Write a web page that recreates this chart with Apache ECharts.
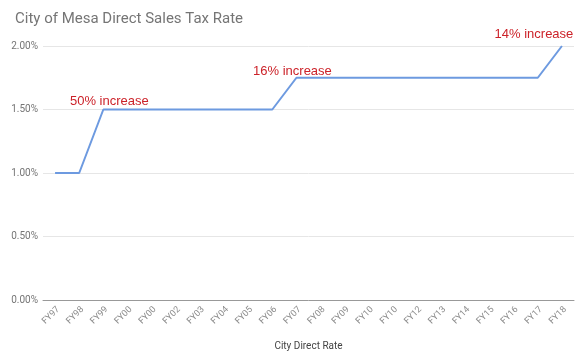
<!DOCTYPE html>
<html>
<head>
<meta charset="utf-8">
<script src="https://cdn.jsdelivr.net/npm/echarts@6/dist/echarts.min.js"></script>
<style>html,body{margin:0;padding:0;background:#fff}#c{width:582px;height:356px}</style>
</head>
<body>
<div id="c"></div>
<script>
var categories = ['FY97','FY98','FY99','FY00','FY00','FY02','FY03','FY04','FY05','FY06','FY07','FY08','FY09','FY10','FY10','FY12','FY13','FY14','FY15','FY16','FY17','FY18'];
var rates = [1.00,1.00,1.50,1.50,1.50,1.50,1.50,1.50,1.50,1.50,1.75,1.75,1.75,1.75,1.75,1.75,1.75,1.75,1.75,1.75,1.75,2.00];
var yTicks = [0, 0.5, 1.0, 1.5, 2.0];
var annotations = [
  {text: '50% increase', index: 2, value: 1.50, dx: 6, dy: -9},
  {text: '16% increase', index: 10, value: 1.75, dx: -4, dy: -7},
  {text: '14% increase', index: 21, value: 2.00, dx: -28, dy: -12}
];

var chart = echarts.init(document.getElementById('c'), null, {renderer: 'canvas'});
chart.setOption({
  animation: false,
  backgroundColor: '#fff',
  title: {
    text: 'City of Mesa Direct Sales Tax Rate',
    left: 10, top: 7,
    textStyle: {fontFamily: 'Roboto', fontSize: 15, fontWeight: 'normal', color: '#757575'}
  },
  grid: {left: 43, right: 8, top: 46, bottom: 55, containLabel: false},
  xAxis: {
    type: 'category',
    data: categories,
    boundaryGap: true,
    name: 'City Direct Rate',
    nameLocation: 'middle',
    nameGap: 41,
    nameTextStyle: {fontFamily: 'Roboto', fontSize: 10, color: '#444'},
    axisLine: {lineStyle: {color: '#999', width: 1}},
    axisTick: {show: false},
    axisLabel: {rotate: 45, interval: 0, fontFamily: 'Roboto', fontSize: 9, color: '#8a8a8a', margin: 5, verticalAlign: 'top'}
  },
  yAxis: {
    type: 'value',
    min: yTicks[0], max: yTicks[yTicks.length - 1], interval: 0.5,
    axisLine: {show: false},
    axisTick: {show: false},
    axisLabel: {fontFamily: 'Roboto', fontSize: 10, color: '#757575', margin: 5,
      formatter: function (v) { return v.toFixed(2) + '%'; }},
    splitLine: {lineStyle: {color: '#e6e6e6', width: 1}}
  },
  series: [{
    type: 'line',
    data: rates,
    symbol: 'none',
    lineStyle: {color: '#6d9ae0', width: 2},
    markPoint: {
      symbol: 'circle', symbolSize: 0,
      data: annotations.map(function (a) {
        return {
          coord: [a.index, a.value],
          label: {
            show: true, formatter: a.text, position: 'top', distance: 0,
            offset: [a.dx, a.dy + 7],
            fontFamily: 'Liberation Sans', fontSize: 13, color: '#cc2229'
          }
        };
      })
    }
  }]
});
</script>
</body>
</html>
